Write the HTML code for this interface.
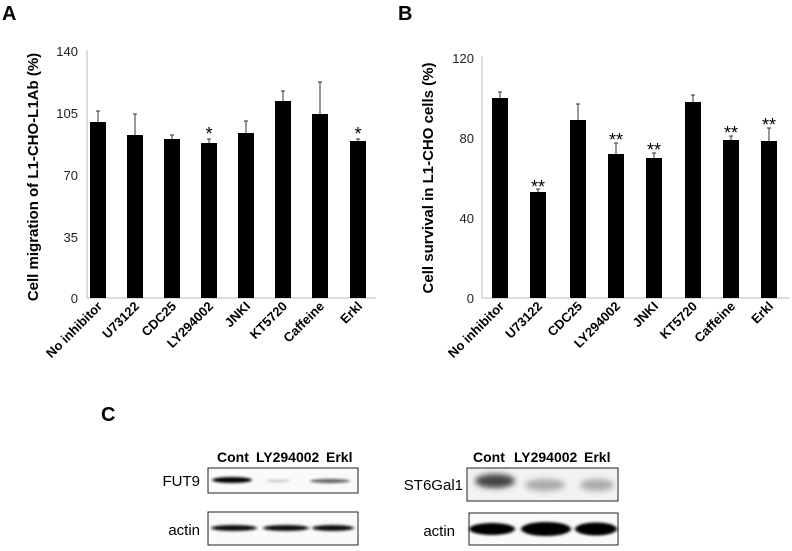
<!DOCTYPE html>
<html><head><meta charset="utf-8"><style>
html,body{margin:0;padding:0;background:#fff;}
svg{display:block;font-family:"Liberation Sans",Arial,sans-serif;}
</style></head><body>
<svg width="792" height="551" viewBox="0 0 792 551" xmlns="http://www.w3.org/2000/svg">
<defs>
<filter id="b1" x="-20%" y="-200%" width="140%" height="500%"><feGaussianBlur stdDeviation="1.6 1.2"/></filter>
<filter id="b2" x="-20%" y="-200%" width="140%" height="500%"><feGaussianBlur stdDeviation="3 3"/></filter>
</defs>
<g font-weight="bold" font-size="20"><text x="2" y="20">A</text><text x="398" y="20">B</text><text x="101" y="421">C</text></g>

<!-- Panel A -->
<g font-size="13" fill="#222" text-anchor="end">
<text x="78" y="56">140</text><text x="78" y="118">105</text><text x="78" y="180">70</text><text x="78" y="242">35</text><text x="78" y="303">0</text>
</g>
<line x1="87" y1="50" x2="87" y2="298" stroke="#bbb"/>
<line x1="87" y1="298" x2="376" y2="298" stroke="#bbb"/>
<text transform="translate(38,177) rotate(-90)" text-anchor="middle" font-size="15" font-weight="bold">Cell migration of L1-CHO-L1Ab (%)</text>
<g fill="#000">
<rect x="90" y="122" width="16" height="176"/><rect x="127" y="135" width="16" height="163"/>
<rect x="164" y="139" width="16" height="159"/><rect x="201" y="143" width="16" height="155"/>
<rect x="238" y="133" width="16" height="165"/><rect x="275" y="101" width="16" height="197"/>
<rect x="312" y="114" width="16" height="184"/><rect x="350" y="141" width="16" height="157"/>
</g>
<g stroke="#333" stroke-width="1">
<path d="M98 122V111M96 111H100M135 135V114M133 114H137M172 139V135M170 135H174M209 143V139M207 139H211M246 133V121M244 121H248M283 101V91M281 91H285M320 114V82M318 82H322M358 141V139M356 139H360"/>
</g>
<g font-size="18" text-anchor="middle"><text x="209" y="140">*</text><text x="358" y="140">*</text></g>
<g font-size="13" font-weight="bold" text-anchor="end">
<text transform="translate(103,307) rotate(-45)">No inhibitor</text>
<text transform="translate(140,307) rotate(-45)">U73122</text>
<text transform="translate(177,307) rotate(-45)">CDC25</text>
<text transform="translate(214,307) rotate(-45)">LY294002</text>
<text transform="translate(251,307) rotate(-45)">JNKI</text>
<text transform="translate(288,307) rotate(-45)">KT5720</text>
<text transform="translate(325,307) rotate(-45)">Caffeine</text>
<text transform="translate(363,307) rotate(-45)">Erkl</text>
</g>

<!-- Panel B -->
<g font-size="13" fill="#222" text-anchor="end">
<text x="474" y="63">120</text><text x="474" y="143">80</text><text x="474" y="223">40</text><text x="474" y="303">0</text>
</g>
<line x1="482" y1="56" x2="482" y2="298" stroke="#bbb"/>
<line x1="482" y1="298" x2="790" y2="298" stroke="#bbb"/>
<text transform="translate(433,178) rotate(-90)" text-anchor="middle" font-size="15" font-weight="bold">Cell survival in L1-CHO cells (%)</text>
<g fill="#000">
<rect x="492" y="98" width="16" height="200"/><rect x="530" y="192" width="16" height="106"/>
<rect x="570" y="120" width="16" height="178"/><rect x="608" y="154" width="16" height="144"/>
<rect x="646" y="158" width="16" height="140"/><rect x="685" y="102" width="16" height="196"/>
<rect x="723" y="140" width="16" height="158"/><rect x="761" y="141" width="16" height="157"/>
</g>
<g stroke="#333" stroke-width="1">
<path d="M500 98V92M498 92H502M538 192V189M536 189H540M578 120V104M576 104H580M616 154V143M614 143H618M654 158V153M652 153H656M693 102V95M691 95H695M731 140V136M729 136H733M769 141V128M767 128H771"/>
</g>
<g font-size="18" text-anchor="middle">
<text x="538" y="193">**</text><text x="616" y="146">**</text><text x="654" y="156">**</text><text x="731" y="139">**</text><text x="769" y="131">**</text>
</g>
<g font-size="13" font-weight="bold" text-anchor="end">
<text transform="translate(505,307) rotate(-45)">No inhibitor</text>
<text transform="translate(543,307) rotate(-45)">U73122</text>
<text transform="translate(583,307) rotate(-45)">CDC25</text>
<text transform="translate(621,307) rotate(-45)">LY294002</text>
<text transform="translate(659,307) rotate(-45)">JNKI</text>
<text transform="translate(698,307) rotate(-45)">KT5720</text>
<text transform="translate(736,307) rotate(-45)">Caffeine</text>
<text transform="translate(774,307) rotate(-45)">Erkl</text>
</g>

<!-- Panel C -->
<g font-size="14" font-weight="bold">
<text x="217" y="462">Cont</text><text x="256" y="462">LY294002</text><text x="326" y="462">Erkl</text>
<text x="473" y="462">Cont</text><text x="514" y="462">LY294002</text><text x="584" y="462">Erkl</text>
</g>
<g font-size="15" text-anchor="end">
<text x="200" y="486">FUT9</text><text x="200" y="535">actin</text>
<text x="463" y="490">ST6Gal1</text><text x="455" y="536">actin</text>
</g>
<rect x="208" y="468" width="150" height="25" fill="#fafafa" stroke="#222"/>
<rect x="208" y="512" width="150" height="33" fill="#fafafa" stroke="#222"/>
<rect x="467" y="468" width="151" height="33" fill="#f2f2f2" stroke="#222"/>
<rect x="469" y="513" width="149" height="32" fill="#fafafa" stroke="#222"/>
<g filter="url(#b1)">
<ellipse cx="232" cy="480" rx="20" ry="3" fill="#000"/>
<ellipse cx="278" cy="481" rx="13" ry="1.5" fill="#ccc"/>
<ellipse cx="330" cy="481" rx="20" ry="2.2" fill="#666"/>
<ellipse cx="234" cy="528" rx="23" ry="3" fill="#111"/>
<ellipse cx="286" cy="528" rx="23" ry="3" fill="#111"/>
<ellipse cx="333" cy="528" rx="21" ry="3" fill="#111"/>
<ellipse cx="492" cy="529" rx="23" ry="6" fill="#000"/>
<ellipse cx="546" cy="529" rx="25" ry="7" fill="#000"/>
<ellipse cx="596" cy="529" rx="21" ry="6.5" fill="#000"/>
</g>
<g filter="url(#b2)">
<ellipse cx="495" cy="481" rx="20" ry="7" fill="#444"/>
<ellipse cx="545" cy="485" rx="20" ry="6" fill="#aaa"/>
<ellipse cx="597" cy="485" rx="17" ry="6" fill="#aaa"/>
</g>
</svg>
</body></html>
